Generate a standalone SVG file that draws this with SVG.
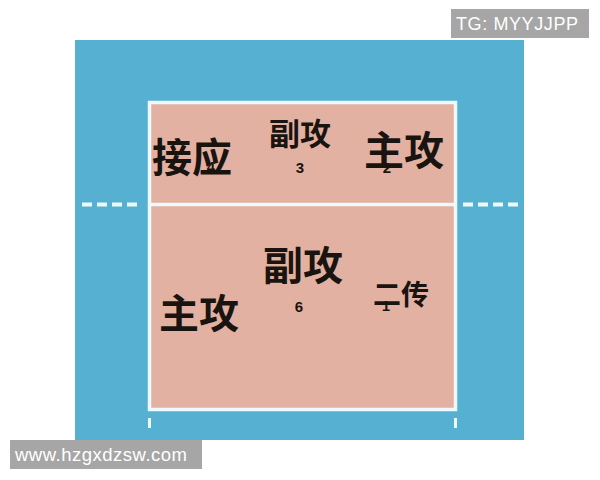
<svg xmlns="http://www.w3.org/2000/svg" width="600" height="480" viewBox="0 0 600 480">
<style>
.line{stroke:#eefaff;fill:none}
.cn{font-family:"Noto Sans CJK SC","Noto Sans",sans-serif;font-weight:700;fill:#1a1410}
.num{font-family:"Liberation Sans",Arial,sans-serif;font-weight:700;fill:#1a1410;text-anchor:middle}
.wm{font-family:"Liberation Sans",Arial,sans-serif;fill:#ffffff}
</style>
<rect x="0" y="0" width="600" height="480" fill="#ffffff"/>
<rect x="75" y="40" width="449" height="400" fill="#55b0d1"/>
<g id="court">
<rect x="149.5" y="102.5" width="306" height="307" fill="#e3b1a1"/>
</g>
<g id="connectors">
<rect class="line" x="149.5" y="102.5" width="306" height="307" stroke-width="3.5"/>
<line class="line" x1="149.5" y1="204.5" x2="455.5" y2="204.5" stroke-width="3.5"/>
<line class="line" x1="82" y1="204.5" x2="142" y2="204.5" stroke-width="4" stroke-dasharray="10,5"/>
<line class="line" x1="463" y1="204.5" x2="523" y2="204.5" stroke-width="4" stroke-dasharray="10,5"/>
<line class="line" x1="149.5" y1="418" x2="149.5" y2="428" stroke-width="3"/>
<line class="line" x1="455.5" y1="418" x2="455.5" y2="428" stroke-width="3"/>
</g>
<g id="pos4">
<text class="num" x="211" y="172" font-size="15">4</text>
<text class="cn" x="152" y="172" font-size="40">接应</text>
</g>
<g id="pos3">
<text class="cn" x="269" y="145" font-size="31">副攻</text>
<text class="num" x="300" y="173" font-size="15">3</text>
</g>
<g id="pos2">
<text class="num" x="387" y="173" font-size="15">2</text>
<text class="cn" x="364" y="165" font-size="40">主攻</text>
</g>
<g id="pos6">
<text class="cn" x="263" y="280" font-size="40">副攻</text>
<text class="num" x="299" y="312" font-size="15">6</text>
</g>
<g id="pos5">
<text class="cn" x="159" y="328" font-size="40">主攻</text>
</g>
<g id="pos1">
<text class="num" x="386" y="311" font-size="15">1</text>
<text class="cn" x="373" y="305" font-size="28">二传</text>
</g>
<g id="wm-top">
<rect x="451" y="9" width="138" height="29" fill="#a6a6a6"/>
<text class="wm" x="456" y="30" font-size="18" textLength="122">TG: MYYJJPP</text>
</g>
<g id="wm-bottom">
<rect x="10" y="440" width="192" height="29" fill="#a6a6a6"/>
<text class="wm" x="15" y="461" font-size="18.5" textLength="172">www.hzgxdzsw.com</text>
</g>
</svg>
